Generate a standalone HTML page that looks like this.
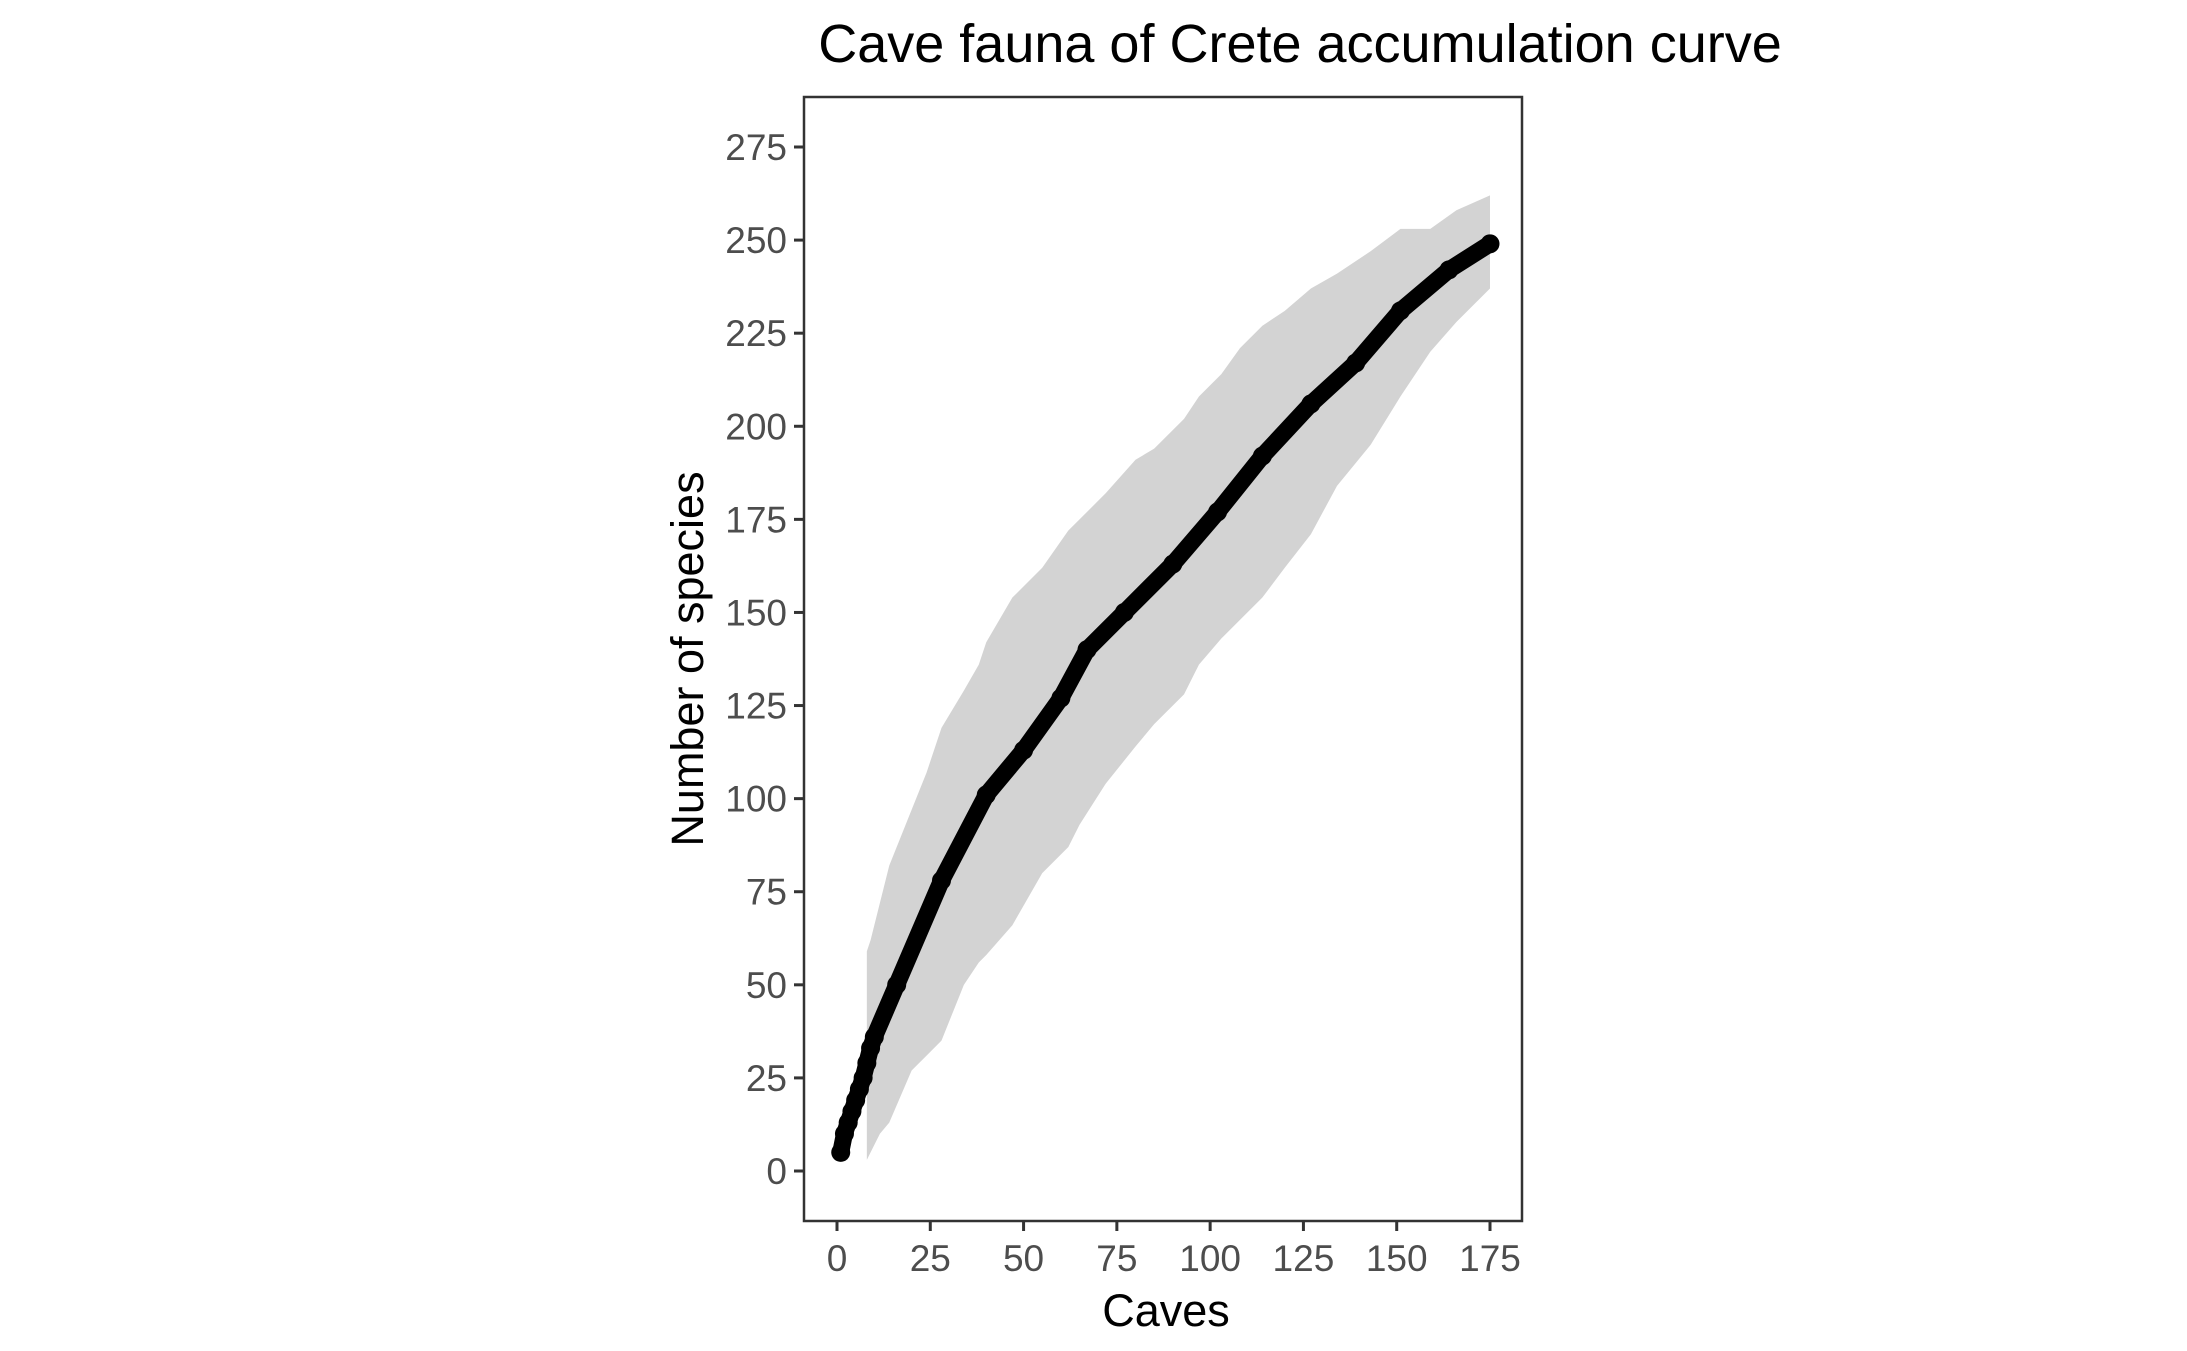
<!DOCTYPE html>
<html><head><meta charset="utf-8"><style>
html,body{margin:0;padding:0;background:#fff}
svg{display:block;font-family:"Liberation Sans",Arial,sans-serif}
</style></head><body>
<svg id="chart" width="2187" height="1351" viewBox="0 0 2187 1351">
<text x="1300" y="62" text-anchor="middle" font-size="54" fill="#000">Cave fauna of Crete accumulation curve</text>
<g id="plot"></g>
<text x="1166" y="1326" text-anchor="middle" font-size="45" fill="#000">Caves</text>
<text transform="translate(703,659) rotate(-90)" text-anchor="middle" font-size="45" fill="#000">Number of species</text>
</svg>
<script>
const meanX=[1,2,3,4,5,6,7,8,9,10,16,28,40,50,60,67,77,90,102,114,127,139,151,164,175];
const meanY=[5,10,13,16,19,22,25,29,33,36,50,78,101,113,127,140,150,163,177,192,206,217,231,242,249];
const bandX=[8,9,11.5,14,20,24,28,34,38,40,47,55,62,65,72,80,85,93,97,103,108,114,120,127,134,143,151,159,166,175];
const bandUpper=[59,62,72,82,97,107,119,129,136,142,154,162,172,175,182,191,194,202,208,214,221,227,231,237,241,247,253,253,258,262];
const bandLower=[3,5,10,13,27,31,35,50,56,58,66,80,87,93,104,114,120,128,136,143,148,154,162,171,184,195,208,220,228,237];
const xTicks=[0,25,50,75,100,125,150,175];
const yTicks=[0,25,50,75,100,125,150,175,200,225,250,275];

const NS="http://www.w3.org/2000/svg";
const g=document.getElementById('plot');
const L=804,R=1522,T=97,B=1221;
const sx=v=>837+v*(1490-837)/175;
const sy=v=>1171-v*(1171-147)/275;
function mk(t,a){const e=document.createElementNS(NS,t);for(const k in a)e.setAttribute(k,a[k]);g.appendChild(e);return e;}

let d="M"+sx(bandX[0])+","+sy(bandUpper[0])+"L"+bandX.map((x,i)=>sx(x)+","+sy(bandUpper[i])).join("L");
for(let i=bandX.length-1;i>=0;i--)d+="L"+sx(bandX[i])+","+sy(bandLower[i]);
const band=mk('path',{d:d+"Z",fill:"#d3d3d3"});



const line=mk('path',{d:"M"+meanX.map((x,i)=>sx(x)+","+sy(meanY[i])).join("L"),fill:"none",stroke:"#000","stroke-width":17,"stroke-linecap":"round","stroke-linejoin":"round"});


meanX.forEach((x,i)=>{
  const c=mk('circle',{cx:sx(x),cy:sy(meanY[i]),r:9.5,fill:"#000"});
  
  
});

const frame=mk('rect',{x:L,y:T,width:R-L,height:B-T,fill:"none",stroke:"#333","stroke-width":2.5});



xTicks.forEach(v=>{
  const t=mk('line',{x1:sx(v),x2:sx(v),y1:B,y2:B+10,stroke:"#333","stroke-width":3});
  
  
  const lb=mk('text',{x:sx(v),y:B+50,"text-anchor":"middle","font-size":37,fill:"#4d4d4d"});
  lb.textContent=v;
  
  
});
yTicks.forEach(v=>{
  const t=mk('line',{x1:L-10,x2:L,y1:sy(v),y2:sy(v),stroke:"#333","stroke-width":3});
  
  
  const lb=mk('text',{x:L-17,y:sy(v)+13,"text-anchor":"end","font-size":37,fill:"#4d4d4d"});
  lb.textContent=v;
  
  
});
</script>
</body></html>
